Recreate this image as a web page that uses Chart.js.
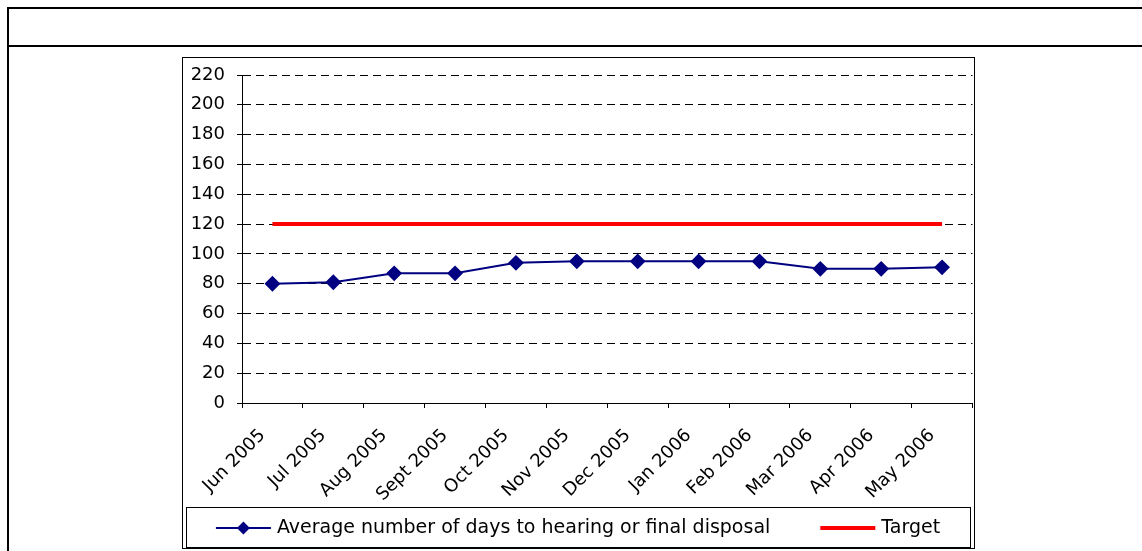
<!DOCTYPE html>
<html>
<head>
<meta charset="utf-8">
<script src="https://cdn.jsdelivr.net/npm/chart.js@4.4.0/dist/chart.umd.min.js"></script>
<style>
  body { margin: 0; background: #fff; width: 1142px; height: 551px; overflow: hidden; position: relative; }
  .frame { position: absolute; left: 7px; top: 7px; width: 1200px; height: 600px; border-left: 2px solid #000; border-top: 2px solid #000; }
  .rule { position: absolute; left: 7px; top: 45px; width: 1200px; height: 0; border-top: 2px solid #000; }
  #fundo { position: absolute; left: 182px; top: 57px; width: 793px; height: 492px; background: #fff; }
  #holder { position: absolute; left: 183px; top: 58px; width: 798px; height: 490px; }
  #box { position: absolute; left: 182px; top: 57px; width: 791px; height: 490px; border: 1px solid #000; pointer-events: none; }
</style>
</head>
<body>
<div class="frame"></div>
<div class="rule"></div>
<div id="fundo"></div>
<div id="holder"><canvas id="grafico"></canvas></div>
<div id="box"></div>
<script>
var meses = ['Jun 2005', 'Jul 2005', 'Aug 2005', 'Sept 2005', 'Oct 2005', 'Nov 2005',
             'Dec 2005', 'Jan 2006', 'Feb 2006', 'Mar 2006', 'Apr 2006', 'May 2006'];
var mediaDias = [80, 81, 87, 87, 94, 95, 95, 95, 95, 90, 90, 91];
var meta = [120, 120, 120, 120, 120, 120, 120, 120, 120, 120, 120, 120];
var eixoY = [0, 20, 40, 60, 80, 100, 120, 140, 160, 180, 200, 220];

var fonte = "Tahoma, 'DejaVu Sans', sans-serif";

// legend drawn as a boxed row under the axis, like the original
var legendaCaixa = {
  id: 'legendaCaixa',
  afterDraw: function(chart) {
    var ctx = chart.ctx;
    var x0 = 3, y0 = 449, w = 784, h = 40;
    ctx.save();
    ctx.strokeStyle = '#000';
    ctx.lineWidth = 1;
    ctx.strokeRect(x0 + 0.5, y0 + 0.5, w, h);
    ctx.font = '19px ' + fonte;
    ctx.textBaseline = 'middle';
    ctx.fillStyle = '#000';
    var sets = chart.data.datasets;
    var amostra = 55, gap = 6, entre = 50;
    var total = 0;
    sets.forEach(function(ds, i) {
      total += amostra + gap + ctx.measureText(ds.label).width + (i ? entre : 0);
    });
    var x = x0 + (w - total) / 2, cy = y0 + h / 2 + 1;
    sets.forEach(function(ds, i) {
      if (i) x += entre;
      ctx.strokeStyle = ds.borderColor;
      ctx.lineWidth = ds.borderWidth;
      ctx.beginPath();
      ctx.moveTo(x, cy);
      ctx.lineTo(x + amostra, cy);
      ctx.stroke();
      if (ds.pointRadius > 0) {
        var r = ds.pointRadius, mx = x + amostra / 2;
        ctx.fillStyle = ds.pointBackgroundColor;
        ctx.beginPath();
        ctx.moveTo(mx, cy - r);
        ctx.lineTo(mx + r, cy);
        ctx.lineTo(mx, cy + r);
        ctx.lineTo(mx - r, cy);
        ctx.closePath();
        ctx.fill();
      }
      x += amostra + gap;
      ctx.fillStyle = '#000';
      ctx.fillText(ds.label, x, cy);
      x += ctx.measureText(ds.label).width;
    });
    ctx.restore();
  }
};

new Chart(document.getElementById('grafico'), {
  type: 'line',
  data: {
    labels: meses,
    datasets: [{
      label: 'Average number of days to hearing or final disposal',
      data: mediaDias,
      borderColor: '#000080',
      backgroundColor: '#000080',
      pointBackgroundColor: '#000080',
      pointBorderColor: '#000080',
      borderWidth: 2,
      pointStyle: 'rectRot',
      pointRadius: 6.5,
      pointHoverRadius: 6.5,
      tension: 0,
      fill: false
    }, {
      label: 'Target',
      data: meta,
      borderColor: '#ff0000',
      backgroundColor: '#ff0000',
      borderWidth: 4,
      pointRadius: 0,
      tension: 0,
      fill: false
    }]
  },
  options: {
    responsive: true,
    maintainAspectRatio: false,
    animation: false,
    events: [],
    layout: { padding: { top: 17, right: 1, bottom: 41, left: 0 } },
    plugins: {
      legend: { display: false },
      title: { display: false },
      tooltip: { enabled: false }
    },
    scales: {
      x: {
        offset: true,
        grid: { offset: true, drawOnChartArea: false, drawTicks: true, tickLength: 5, color: '#000', tickColor: '#000' },
        border: { display: true, color: '#000', width: 1 },
        ticks: { color: '#000', font: { family: fonte, size: 18 }, maxRotation: 45, minRotation: 45, autoSkip: false, padding: 17, labelOffset: -10 },
        afterFit: function(s) { s.height = 104; }
      },
      y: {
        min: 0,
        max: 220,
        afterBuildTicks: function(s) { s.ticks = eixoY.map(function(v) { return { value: v }; }); },
        grid: { color: '#000', drawTicks: true, tickLength: 5, tickColor: '#000', tickBorderDash: [] },
        border: { display: true, color: '#000', width: 1, dash: [8, 5] },
        ticks: { color: '#000', font: { family: fonte, size: 18 }, padding: 12 },
        afterFit: function(s) { s.width = 59; s.paddingTop = 0; s.paddingBottom = 0; }
      }
    }
  },
  plugins: [legendaCaixa]
});
</script>
</body>
</html>
